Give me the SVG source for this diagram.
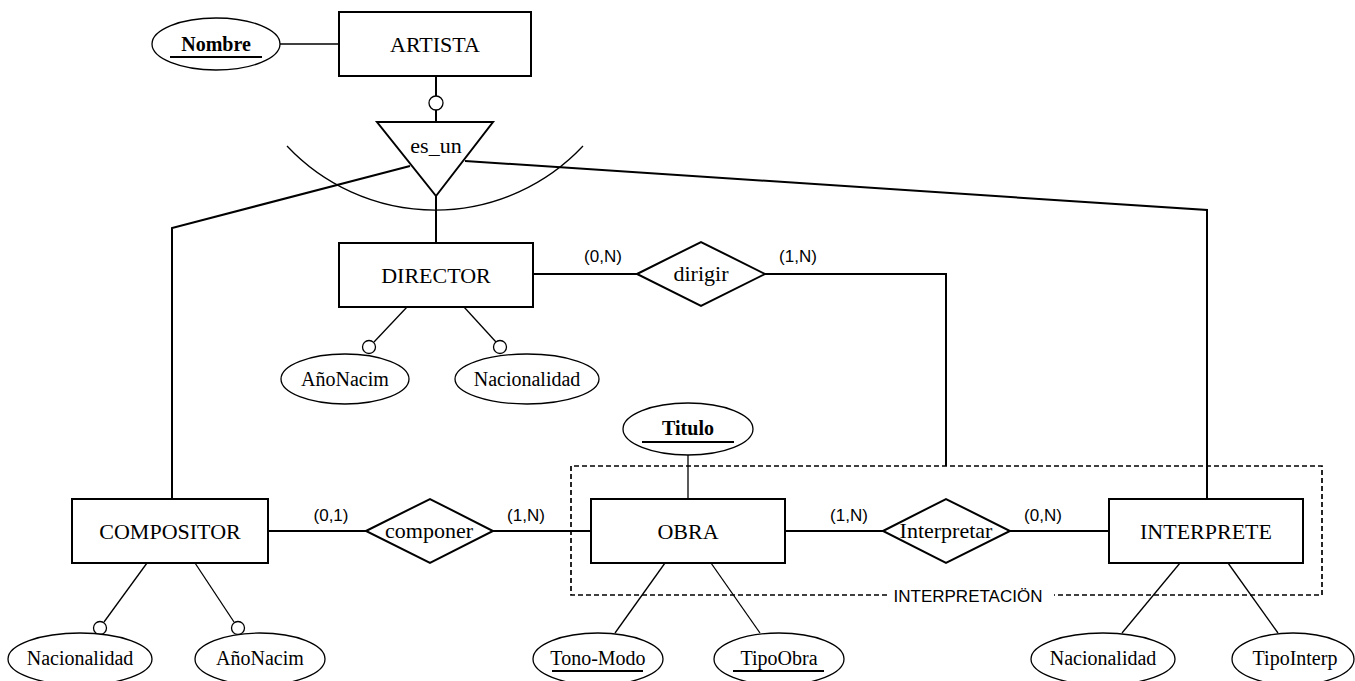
<svg xmlns="http://www.w3.org/2000/svg" width="1355" height="681" viewBox="0 0 1355 681">
<style>
.ent{fill:#fff;stroke:#000;stroke-width:2}
.rel{fill:#fff;stroke:#000;stroke-width:2}
.att{fill:#fff;stroke:#000;stroke-width:1.3}
.lnk{fill:none;stroke:#000;stroke-width:2}
.thin{fill:none;stroke:#000;stroke-width:1.3}
.opt{fill:#fff;stroke:#000;stroke-width:1.3}
.t{font-family:"Liberation Serif","Times New Roman",serif;text-anchor:middle;fill:#000}
.e{font-size:22px}
.a{font-size:20px}
.b{font-weight:bold}
.c{font-family:"Liberation Sans",Arial,sans-serif;font-size:17px;text-anchor:middle;fill:#000}
.ul{stroke:#000;stroke-width:2}
</style>
<rect width="1355" height="681" fill="#fff"/>
<g id="connectors">
<line class="thin" x1="280" y1="44" x2="339" y2="44"/>
<line class="lnk" x1="436" y1="76" x2="436" y2="96"/>
<line class="lnk" x1="436" y1="110" x2="436" y2="122"/>
<line class="lnk" x1="436" y1="196" x2="436" y2="243"/>
<polyline class="lnk" points="410,166 172,228 172,499"/>
<polyline class="lnk" points="465,161 1207,210 1207,499"/>
<path class="thin" d="M287,146 A203,203 0 0,0 583,146"/>
<line class="lnk" x1="533" y1="274" x2="637" y2="274"/>
<polyline class="lnk" points="765,274 946,274 946,466"/>
<line class="lnk" x1="268" y1="531" x2="366" y2="531"/>
<line class="lnk" x1="493" y1="531" x2="591" y2="531"/>
<line class="lnk" x1="785" y1="531" x2="883" y2="531"/>
<line class="lnk" x1="1010" y1="531" x2="1109" y2="531"/>
<line class="thin" x1="688" y1="455" x2="688" y2="499"/>
<line class="thin" x1="407" y1="307" x2="374" y2="342"/>
<line class="thin" x1="464" y1="307" x2="496" y2="342"/>
<line class="thin" x1="147" y1="563" x2="104" y2="622"/>
<line class="thin" x1="195" y1="563" x2="234" y2="622"/>
<line class="thin" x1="665" y1="563" x2="615" y2="633"/>
<line class="thin" x1="711" y1="563" x2="760" y2="633"/>
<line class="thin" x1="1180" y1="563" x2="1122" y2="633"/>
<line class="thin" x1="1228" y1="563" x2="1278" y2="633"/>
<circle class="opt" cx="436" cy="103" r="7"/>
<circle class="opt" cx="369" cy="347" r="6.5"/>
<circle class="opt" cx="500" cy="347" r="6.5"/>
<circle class="opt" cx="100" cy="628" r="6.5"/>
<circle class="opt" cx="238" cy="628" r="6.5"/>
<text class="c" x="603" y="262">(0,N)</text>
<text class="c" x="798" y="262">(1,N)</text>
<text class="c" x="331" y="521">(0,1)</text>
<text class="c" x="526" y="521">(1,N)</text>
<text class="c" x="849" y="521">(1,N)</text>
<text class="c" x="1043" y="521">(0,N)</text>
</g>
<g id="INTERPRETACION">
<path d="M887,595 H571 V466 H1322 V595 H1054" fill="none" stroke="#000" stroke-width="1.7" stroke-dasharray="5,3"/>
<text class="c" x="968" y="602">INTERPRETACIÖN</text>
</g>
<g id="ARTISTA">
<rect class="ent" x="339" y="12" width="192" height="64"/>
<text class="t e" x="435" y="52">ARTISTA</text>
</g>
<g id="Nombre">
<ellipse class="att" cx="216" cy="44" rx="64" ry="26"/>
<text class="t a b" x="216" y="51">Nombre</text>
<line class="ul" x1="170" y1="57" x2="262" y2="57"/>
</g>
<g id="es_un">
<polygon class="rel" points="377,122 493,122 436,196"/>
<text class="t e" x="436" y="153">es_un</text>
</g>
<g id="DIRECTOR">
<rect class="ent" x="339" y="243" width="194" height="64"/>
<text class="t e" x="436" y="283">DIRECTOR</text>
</g>
<g id="dir_AnoNacim">
<ellipse class="att" cx="345" cy="379" rx="64" ry="25"/>
<text class="t a" x="345" y="386">AñoNacim</text>
</g>
<g id="dir_Nacionalidad">
<ellipse class="att" cx="527" cy="379" rx="72" ry="25"/>
<text class="t a" x="527" y="386">Nacionalidad</text>
</g>
<g id="dirigir">
<polygon class="rel" points="637,274 701,242 765,274 701,306"/>
<text class="t e" x="701" y="281">dirigir</text>
</g>
<g id="COMPOSITOR">
<rect class="ent" x="72" y="499" width="196" height="64"/>
<text class="t e" x="170" y="539">COMPOSITOR</text>
</g>
<g id="comp_Nacionalidad">
<ellipse class="att" cx="80" cy="659" rx="72" ry="26"/>
<text class="t a" x="80" y="665">Nacionalidad</text>
</g>
<g id="comp_AnoNacim">
<ellipse class="att" cx="260" cy="659" rx="65" ry="26"/>
<text class="t a" x="260" y="665">AñoNacim</text>
</g>
<g id="componer">
<polygon class="rel" points="366,531 430,499 493,531 430,563"/>
<text class="t e" x="429" y="538">componer</text>
</g>
<g id="OBRA">
<rect class="ent" x="591" y="499" width="194" height="64"/>
<text class="t e" x="688" y="539">OBRA</text>
</g>
<g id="Titulo">
<ellipse class="att" cx="688" cy="429" rx="65" ry="26"/>
<text class="t a b" x="688" y="435">Titulo</text>
<line class="ul" x1="642" y1="442" x2="734" y2="442"/>
</g>
<g id="Tono-Modo">
<ellipse class="att" cx="598" cy="659" rx="65" ry="26"/>
<text class="t a" x="598" y="665">Tono-Modo</text>
<line class="ul" x1="552" y1="671" x2="643" y2="671"/>
</g>
<g id="TipoObra">
<ellipse class="att" cx="779" cy="659" rx="65" ry="26"/>
<text class="t a" x="779" y="665">TipoObra</text>
<line class="ul" x1="733" y1="671" x2="824" y2="671"/>
</g>
<g id="Interpretar">
<polygon class="rel" points="883,531 946,499 1010,531 946,563"/>
<text class="t e" x="946" y="538">Interpretar</text>
</g>
<g id="INTERPRETE">
<rect class="ent" x="1109" y="499" width="194" height="64"/>
<text class="t e" x="1206" y="539">INTERPRETE</text>
</g>
<g id="int_Nacionalidad">
<ellipse class="att" cx="1103" cy="659" rx="72" ry="26"/>
<text class="t a" x="1103" y="665">Nacionalidad</text>
</g>
<g id="TipoInterp">
<ellipse class="att" cx="1293" cy="659" rx="61" ry="26"/>
<text class="t a" x="1295" y="665">TipoInterp</text>
</g>
</svg>
